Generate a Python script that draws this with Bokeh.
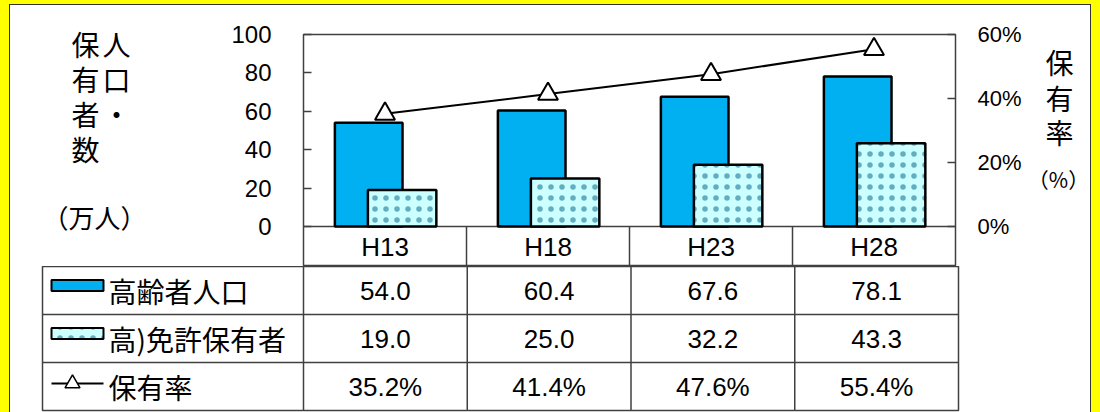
import numpy as np
from bokeh.plotting import figure
from bokeh.models import (Range1d, LinearAxis, FixedTicker, PrintfTickFormatter,
                          ColumnDataSource)
from bokeh.layouts import column, row
from bokeh.core.properties import value
from bokeh.embed import file_html
from bokeh.resources import INLINE

# ---------------- data ----------------
categories = ["H13", "H18", "H23", "H28"]
elderly_pop = [54.0, 60.4, 67.6, 78.1]          # 高齢者人口 (万人)
license_holders = [19.0, 25.0, 32.2, 43.3]      # 高)免許保有者 (万人)
holding_rate = [35.2, 41.4, 47.6, 55.4]         # 保有率 (%)
series_names = ["高齢者人口", "高)免許保有者", "保有率"]
left_ticks = [0, 20, 40, 60, 80, 100]
right_ticks = [0, 20, 40, 60]
left_title_cols = ["保有者数", "人口・"]         # vertical text, two columns
left_title_unit = "（万人）"
right_title = "保有率"
right_title_unit = "（%）"

# ---------------- layout (page pixels) ----------------
X0, Y0 = 10, 5            # white panel origin
W = 1080
SPLIT_L, SPLIT_R = 160, 1024
PLOT_L, PLOT_R = 303, 958
PLOT_T, BASE_Y = 34, 226
CAT_B = 266
TABLE_L = 42
ROW_H = 48
NROWS = 3
TABLE_B = CAT_B + NROWS * ROW_H
PAGE_H = 412

n = len(categories)
ux = (PLOT_R - PLOT_L) / n
uy = (BASE_Y - PLOT_T) / 100.0
ymin = -(CAT_B - BASE_Y) / uy
uy2 = (BASE_Y - PLOT_T) / 60.0
ymin2 = -(CAT_B - BASE_Y) / uy2


def dx(px):
    return (px - PLOT_L) / ux


CJK = "Noto Sans CJK JP"
NUM = "Liberation Sans"
LINE_C = "#404040"
BLUE = "#00B0F0"
PALE = "#CCFFFF"
DOT = "#62ADC0"


def no_grid(f):
    for g in f.grid:
        g.visible = False
    f.frame_align = False


def bare(w, h, xr, yr):
    f = figure(width=w, height=h, x_range=xr, y_range=yr,
               x_axis_location=None, y_axis_location=None,
               output_backend="svg", toolbar_location=None,
               min_border=0)
    f.outline_line_color = None
    no_grid(f)
    return f


xc = np.arange(n) + 0.5
src = ColumnDataSource(dict(
    cat=categories, xc=xc,
    x_pop=xc - 0.10, x_lic=xc + 0.105,
    pop=elderly_pop, lic=license_holders, rate=holding_rate,
))

# ---------------- chart figure ----------------
top = figure(width=SPLIT_R - SPLIT_L, height=CAT_B - Y0,
             x_range=Range1d(0, n), y_range=Range1d(ymin, 100),
             x_axis_location=None, y_axis_location=None,
             output_backend="svg", toolbar_location=None,
             min_border_left=PLOT_L - SPLIT_L, min_border_right=SPLIT_R - PLOT_R,
             min_border_top=PLOT_T - Y0, min_border_bottom=0)
no_grid(top)
top.extra_y_ranges = {"pct": Range1d(ymin2, 60)}
top.outline_line_color = LINE_C
top.outline_line_width = 1.5

yl = LinearAxis(ticker=FixedTicker(ticks=left_ticks), bounds=(0, 100))
yr = LinearAxis(ticker=FixedTicker(ticks=right_ticks), bounds=(0, 60),
                y_range_name="pct", formatter=PrintfTickFormatter(format="%d%%"))
for ax, so, fs in ((yl, 32, "24px"), (yr, 22, "22px")):
    ax.axis_line_color = None
    ax.major_tick_in = 8
    ax.major_tick_out = 0
    ax.major_tick_line_color = LINE_C
    ax.major_tick_line_width = 1.5
    ax.minor_tick_line_color = None
    ax.major_label_text_font = NUM
    ax.major_label_text_font_size = fs
    ax.major_label_text_color = "black"
    ax.major_label_standoff = so
top.add_layout(yl, "left")
top.add_layout(yr, "right")

# category row lines
top.segment(x0=[0], x1=[n], y0=[0], y1=[0], line_color=LINE_C, line_width=1.5)
top.segment(x0=list(range(1, n)), x1=list(range(1, n)), y0=[0] * (n - 1),
            y1=[ymin] * (n - 1), line_color=LINE_C, line_width=1.5)

top.vbar(x="x_pop", width=0.415, top="pop", bottom=0, source=src,
         fill_color=BLUE, line_color="black", line_width=2.5)
top.vbar(x="x_lic", width=0.42, top="lic", bottom=0, source=src,
         fill_color=PALE, hatch_pattern=".", hatch_color=DOT,
         hatch_scale=11, hatch_weight=0.3,
         line_color="black", line_width=2.5)
top.line(x="xc", y="rate", y_range_name="pct", source=src,
         line_color="black", line_width=2)
top.scatter(x="xc", y="rate", y_range_name="pct", source=src, marker="triangle",
            size=20, fill_color="white", line_color="black", line_width=2)

top.text(x="xc", y=ymin / 2, text="cat", source=src, text_align="center",
         text_baseline="middle", text_font=value(NUM), text_font_size="26px",
         text_color="black")

# ---------------- axis title panels (page pixel coordinates) ----------------
tl = bare(SPLIT_L - X0, CAT_B - Y0, Range1d(X0, SPLIT_L), Range1d(CAT_B, Y0))
col_x = [85, 116]
row_y = [43, 78, 113, 148]
txs, tys, tts = [], [], []
for ci, colstr in enumerate(left_title_cols):
    for ri, ch in enumerate(colstr):
        txs.append(col_x[ci])
        tys.append(row_y[ri])
        tts.append(ch)
tl.text(x=txs, y=tys, text=tts, text_align="center", text_baseline="middle",
        text_font=value(CJK), text_font_size="28px", text_color="black")
tl.text(x=[94], y=[216], text=[left_title_unit], text_align="center",
        text_baseline="middle", text_font=value(CJK), text_font_size="26px",
        text_color="black")

tr = bare(X0 + W - SPLIT_R, CAT_B - Y0, Range1d(SPLIT_R, X0 + W), Range1d(CAT_B, Y0))
tr.text(x=[1059] * len(right_title), y=[61, 97, 131][:len(right_title)],
        text=list(right_title), text_align="center", text_baseline="middle",
        text_font=value(CJK), text_font_size="28px", text_color="black")
tr.text(x=[1058], y=[178], text=[right_title_unit], text_align="center",
        text_baseline="middle", text_font=value(CJK), text_font_size="21px",
        text_color="black")

# ---------------- data table figure ----------------
L = (PLOT_L - TABLE_L) / ux
bot = figure(width=W, height=PAGE_H - CAT_B,
             x_range=Range1d(-L, n), y_range=Range1d(NROWS, 0),
             x_axis_location=None, y_axis_location=None,
             output_backend="svg", toolbar_location=None,
             min_border_left=TABLE_L - X0, min_border_right=X0 + W - PLOT_R,
             min_border_top=0, min_border_bottom=PAGE_H - TABLE_B)
no_grid(bot)
bot.outline_line_color = LINE_C
bot.outline_line_width = 1.5

bot.segment(x0=[-L] * (NROWS - 1), x1=[n] * (NROWS - 1),
            y0=list(range(1, NROWS)), y1=list(range(1, NROWS)),
            line_color=LINE_C, line_width=1.5)
bot.segment(x0=list(range(0, n)), x1=list(range(0, n)),
            y0=[0] * n, y1=[NROWS] * n, line_color=LINE_C, line_width=1.5)

rows = [[f"{v:.1f}" for v in elderly_pop],
        [f"{v:.1f}" for v in license_holders],
        [f"{v:.1f}%" for v in holding_rate]]
tx, ty, tt = [], [], []
for r, vals in enumerate(rows):
    for i, t in enumerate(vals):
        tx.append(i + 0.5)
        ty.append(r + 0.5)
        tt.append(t)
bot.text(x=tx, y=ty, text=tt, text_align="center", text_baseline="middle",
         text_font=value(NUM), text_font_size="26px", text_color="black")

# legend keys
kx0, kx1 = dx(51), dx(103)
kh = 11 / ROW_H
koff = 5 / ROW_H
bot.quad(left=[kx0], right=[kx1], top=[0.5 - koff - kh / 2], bottom=[0.5 - koff + kh / 2],
         fill_color=BLUE, line_color="black", line_width=2)
bot.quad(left=[kx0], right=[kx1], top=[1.5 - koff - kh / 2], bottom=[1.5 - koff + kh / 2],
         fill_color=PALE, hatch_pattern=".", hatch_color=DOT,
         hatch_scale=11, hatch_weight=0.3, line_color="black", line_width=2)
ly = 2.5 - 3 / ROW_H
bot.line(x=[kx0, kx1], y=[ly, ly], line_color="black", line_width=2)
bot.scatter(x=[dx(72)], y=[ly], marker="triangle", size=15,
            fill_color="white", line_color="black", line_width=1.5)
bot.text(x=[dx(108)] * NROWS, y=[r + 0.5 for r in range(NROWS)], text=series_names,
         text_align="left", text_baseline="middle", text_font=value(CJK),
         text_font_size="28px", text_color="black")

top_row = row(tl, top, tr, styles={"background-color": "white"})
layout = column(top_row, bot, margin=(Y0, 0, 0, X0),
                styles={"outline": "1px solid #333333", "background-color": "white"})

html = file_html(layout, INLINE)
html = html.replace("</head>",
                    "<style>html, body { background-color: #FFFF00 !important; }</style></head>", 1)
open("out.html", "w").write(html)
